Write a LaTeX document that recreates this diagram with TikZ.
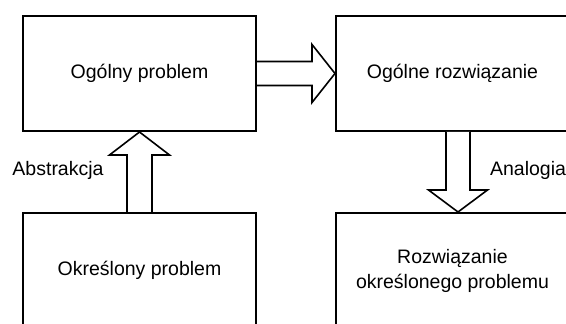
\documentclass[tikz,border=0pt]{standalone}
\usepackage{fontspec}
\setmainfont{Liberation Sans}
\usetikzlibrary{calc}
\begin{document}
\begin{tikzpicture}[x=0.5pt,y=-0.5pt,
  box/.style={draw, line width=1pt, minimum width=116.5pt, minimum height=57.5pt,
    inner sep=0pt, align=center, font=\fontsize{9.75}{12.5}\selectfont},
  lbl/.style={font=\fontsize{9.75}{12}\selectfont, inner sep=0pt},
  fat/.style={draw, line width=0.8pt, fill=white, line join=miter}]
\useasboundingbox (0,0) rectangle (566,324);
\clip (0,0) rectangle (566,324);
\node[box] (gp) at (139.5,73.5) {Ogólny problem};
\node[box] (gr) at (452.5,73.5) {Ogólne rozwiązanie};
\node[box] (op) at (139.5,270.5) {Określony problem};
\node[box] (rs) at (452.5,270.5) {Rozwiązanie\\określonego problemu};
% horizontal arrow
\draw[fat] ($(gp.east)+(0,-12)$) -- ($(gr.west)+(-23,-12)$) -- ($(gr.west)+(-23,-29)$)
  -- (gr.west) -- ($(gr.west)+(-23,29)$) -- ($(gr.west)+(-23,12)$) -- ($(gp.east)+(0,12)$);
% up arrow
\draw[fat] ($(op.north)+(-12.5,0)$) -- ($(gp.south)+(-12.5,23)$) -- ($(gp.south)+(-30,23)$)
  -- (gp.south) -- ($(gp.south)+(30,23)$) -- ($(gp.south)+(12.5,23)$) -- ($(op.north)+(12.5,0)$);
% down arrow
\coordinate (dt) at ($(gr.south)+(5.5,0)$);
\coordinate (db) at ($(rs.north)+(5.5,0)$);
\draw[fat] ($(dt)+(-12,0)$) -- ($(db)+(-12,-22)$) -- ($(db)+(-29.5,-22)$)
  -- (db) -- ($(db)+(29.5,-22)$) -- ($(db)+(12,-22)$) -- ($(dt)+(12,0)$);
\node[lbl] (abs) at (58,170) {Abstrakcja};
\node[lbl] (ana) at (528,170) {Analogia};
\end{tikzpicture}
\end{document}
